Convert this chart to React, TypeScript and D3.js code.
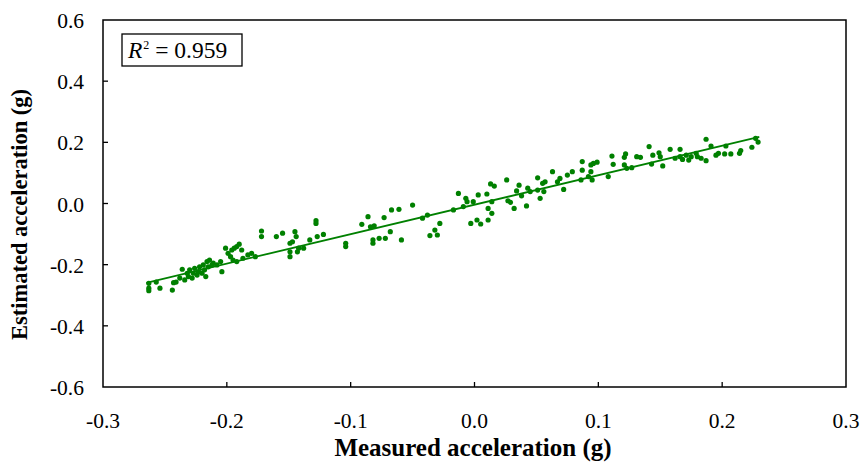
import * as d3 from 'd3';

const measured = [
  -0.263, -0.263, -0.263, -0.257, -0.254, -0.244, -0.243, -0.241, -0.238, -0.236,
  -0.234, -0.232, -0.231, -0.230, -0.228, -0.227, -0.226, -0.224, -0.223, -0.222,
  -0.220, -0.219, -0.218, -0.216, -0.215, -0.214, -0.212, -0.217, -0.211, -0.208,
  -0.204, -0.205, -0.201, -0.199, -0.197, -0.196, -0.194, -0.192, -0.190, -0.188,
  -0.195, -0.192, -0.187, -0.183, -0.180, -0.177, -0.172, -0.172, -0.160, -0.155,
  -0.149, -0.149, -0.149, -0.147, -0.145, -0.144, -0.142, -0.143, -0.138, -0.133,
  -0.128, -0.128, -0.127, -0.122, -0.104, -0.104, -0.091, -0.086, -0.084, -0.081,
  -0.082, -0.082, -0.077, -0.072, -0.073, -0.068, -0.067, -0.061, -0.059, -0.050,
  -0.042, -0.038, -0.036, -0.032, -0.030, -0.028, -0.017, -0.013, -0.009, -0.007,
  -0.006, -0.003, -0.001, 0.002, 0.003, 0.005, 0.010, 0.011, 0.011, 0.014,
  0.014, 0.013, 0.016, 0.026, 0.027, 0.029, 0.032, 0.034, 0.036, 0.038,
  0.042, 0.043, 0.045, 0.051, 0.051, 0.053, 0.055, 0.056, 0.057, 0.063,
  0.067, 0.069, 0.072, 0.075, 0.079, 0.086, 0.087, 0.087, 0.092, 0.094,
  0.095, 0.096, 0.099, 0.094, 0.108, 0.111, 0.112, 0.121, 0.122, 0.121,
  0.123, 0.127, 0.131, 0.134, 0.141, 0.143, 0.144, 0.149, 0.150, 0.152,
  0.158, 0.162, 0.166, 0.166, 0.168, 0.171, 0.173, 0.175, 0.179, 0.180,
  0.183, 0.187, 0.187, 0.191, 0.195, 0.197, 0.203, 0.202, 0.207, 0.214,
  0.215, 0.224, 0.227, 0.229,
];
const estimated = [
  -0.261, -0.277, -0.285, -0.257, -0.277, -0.283, -0.259, -0.257, -0.244, -0.215,
  -0.250, -0.228, -0.239, -0.217, -0.244, -0.228, -0.212, -0.234, -0.223, -0.207,
  -0.228, -0.201, -0.217, -0.190, -0.207, -0.185, -0.201, -0.239, -0.195, -0.201,
  -0.223, -0.190, -0.146, -0.163, -0.174, -0.152, -0.146, -0.141, -0.133, -0.152,
  -0.185, -0.190, -0.179, -0.168, -0.163, -0.174, -0.090, -0.108, -0.108, -0.097,
  -0.130, -0.158, -0.174, -0.125, -0.092, -0.108, -0.146, -0.158, -0.146, -0.119,
  -0.056, -0.065, -0.108, -0.101, -0.130, -0.141, -0.068, -0.043, -0.076, -0.073,
  -0.119, -0.130, -0.114, -0.114, -0.046, -0.092, -0.021, -0.019, -0.119, -0.005,
  -0.048, -0.038, -0.105, -0.087, -0.103, -0.065, -0.021, 0.033, -0.010, 0.017,
  0.006, -0.065, 0.006, -0.054, 0.028, -0.067, 0.031, -0.054, -0.016, 0.006,
  -0.032, 0.064, 0.057, 0.077, 0.009, 0.004, -0.016, 0.041, 0.060, 0.025,
  -0.008, 0.050, 0.039, 0.084, 0.044, 0.017, 0.066, 0.039, 0.071, 0.104,
  0.071, 0.082, 0.046, 0.093, 0.104, 0.077, 0.137, 0.109, 0.088, 0.126,
  0.077, 0.131, 0.135, 0.104, 0.088, 0.155, 0.128, 0.151, 0.162, 0.126,
  0.115, 0.117, 0.153, 0.151, 0.186, 0.129, 0.158, 0.166, 0.153, 0.123,
  0.177, 0.148, 0.177, 0.153, 0.144, 0.158, 0.142, 0.153, 0.164, 0.153,
  0.148, 0.210, 0.140, 0.188, 0.158, 0.164, 0.188, 0.162, 0.162, 0.164,
  0.173, 0.184, 0.213, 0.201,
];

const xTicks = [-0.3, -0.2, -0.1, 0.0, 0.1, 0.2, 0.3];
const yTicks = [-0.6, -0.4, -0.2, 0.0, 0.2, 0.4, 0.6];

// trend line as drawn in the figure
const trendSlope = 0.963;
const trendIntercept = -0.004;
const trendRange = [-0.265, 0.23];
const rSquared = '0.959';

const width = 862;
const height = 466;
const margin = { top: 20, right: 16, bottom: 79, left: 103 };
const green = '#008000';
const font = '"Liberation Serif", "Times New Roman", serif';

// excel style labels: plain hyphen, one decimal
const fmt = (v: number) => d3.format('.1f')(v).replace('\u2212', '-');

export default function App() {
  const x = d3.scaleLinear().domain([-0.3, 0.3]).range([margin.left, width - margin.right]);
  const y = d3.scaleLinear().domain([-0.6, 0.6]).range([height - margin.bottom, margin.top]);
  const points = measured.map((m, i) => [m, estimated[i]]);

  const trend = d3.line<number>()
    .x(d => x(d))
    .y(d => y(trendSlope * d + trendIntercept));

  const x0 = margin.left;
  const x1 = width - margin.right;
  const y0 = height - margin.bottom;
  const y1 = margin.top;

  return (
    <svg width={width} height={height} style={{ position: 'absolute', left: 0, top: 0 }}>
      <rect width={width} height={height} fill="#fff" />
      {xTicks.slice(1, -1).map(t => (
        <line key={'xt' + t} x1={x(t)} x2={x(t)} y1={y0} y2={y0 - 5} stroke="#000" strokeWidth={1.3} />
      ))}
      {yTicks.slice(1, -1).map(t => (
        <line key={'yt' + t} x1={x0} x2={x0 + 5} y1={y(t)} y2={y(t)} stroke="#000" strokeWidth={1.3} />
      ))}
      {xTicks.map(t => (
        <text key={'xl' + t} x={x(t)} y={y0 + 41} textAnchor="middle" fontSize={21.5} fontFamily={font}>
          {fmt(t)}
        </text>
      ))}
      {yTicks.map(t => (
        <text key={'yl' + t} x={x0 - 19} y={y(t) + 8} textAnchor="end" fontSize={21.5} fontFamily={font}>
          {fmt(t)}
        </text>
      ))}
      <path d={trend(trendRange) ?? ''} fill="none" stroke={green} strokeWidth={1.8} />
      {points.map((p, i) => (
        <circle key={i} cx={x(p[0])} cy={y(p[1])} r={2.6} fill={green} />
      ))}
      <rect x={x0} y={y1} width={x1 - x0} height={y0 - y1} fill="none" stroke="#000" strokeWidth={1.5} />
      <rect x={122} y={34} width={120} height={32} fill="#fff" stroke="#000" strokeWidth={1.3} />
      <text x={128} y={58} fontSize={23.5} fontFamily={font}>
        <tspan fontStyle="italic">R</tspan>
        <tspan fontSize={12} dx={1} dy={-9}>2</tspan>
        <tspan dy={9}>{' = ' + rSquared}</tspan>
      </text>
      <text x={473} y={456} textAnchor="middle" fontSize={25} fontWeight="bold" fontFamily={font}>
        Measured acceleration (g)
      </text>
      <text
        transform={`translate(27,214.5) rotate(-90)`}
        textAnchor="middle"
        fontSize={22.5}
        fontWeight="bold"
        fontFamily={font}
      >
        Estimated acceleration (g)
      </text>
    </svg>
  );
}
